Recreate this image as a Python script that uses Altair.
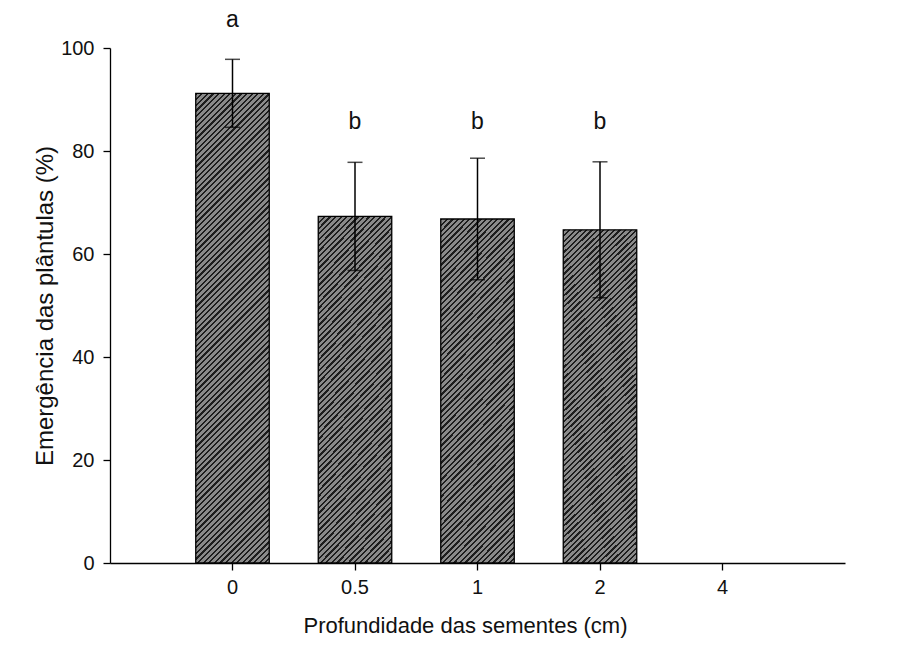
import altair as alt
import pandas as pd

depth = ["0", "0.5", "1", "2", "4"]
emergence = [91.2, 67.3, 66.8, 64.7, 0.0]
err = [6.6, 10.5, 11.8, 13.2, 0.0]
letters = ["a", "b", "b", "b", ""]
letter_y = [105.5, 85.6, 85.6, 85.6, 0.0]

df = pd.DataFrame({"depth": depth, "val": emergence, "err": err,
                   "letter": letters, "ly": letter_y})
df["lo"] = df["val"] - df["err"]
df["hi"] = df["val"] + df["err"]

FONT = "Liberation Sans"
W, H = 735, 515


def hatch(w, h, period=5.6, frac=0.4, dark="#1e1e1e", light="#8a8a8a"):
    s = w + h
    k = s / (w * w + h * h)
    n = int(round(s / period))
    stops = []
    for i in range(n):
        a = i / n
        b = (i + frac) / n
        c = (i + 1) / n
        stops += [alt.GradientStop(offset=a, color=dark),
                  alt.GradientStop(offset=b, color=dark),
                  alt.GradientStop(offset=b, color=light),
                  alt.GradientStop(offset=c, color=light)]
    return alt.LinearGradient(gradient="linear", stops=stops,
                              x1=0, y1=0, x2=w * k, y2=h * k)


xscale = alt.Scale(domain=depth, paddingInner=0.4, paddingOuter=0.7)
xs = alt.X("depth:N", sort=depth, scale=xscale,
           axis=alt.Axis(title="Profundidade das sementes (cm)", labelAngle=0,
                         tickSize=7, labelPadding=7, titlePadding=18,
                         titleFontSize=22, titleX=355, titleAlign="center"))
xp = alt.X("depth:N", sort=depth, scale=xscale)
ys = alt.Y("val:Q", scale=alt.Scale(domain=[0, 100]),
           axis=alt.Axis(title="Emergência das plântulas (%)", values=[0, 20, 40, 60, 80, 100],
                         grid=False, tickSize=7, labelPadding=9, titlePadding=3,
                         titleFontSize=24))

base = alt.Chart(df)
bar0 = base.transform_filter(alt.datum.depth == "0").mark_bar(
    fill=hatch(73.5, 470), stroke="black", strokeWidth=1.3).encode(x=xs, y=ys)
bars = base.transform_filter((alt.datum.depth != "0") & (alt.datum.val > 0)).mark_bar(
    fill=hatch(73.5, 340), stroke="black", strokeWidth=1.3).encode(x=xs, y=ys)

eb = base.transform_filter(alt.datum.err > 0)
rule = eb.mark_rule(color="black", strokeWidth=1.5).encode(
    x=xp, y="lo:Q", y2="hi:Q")
cap_hi = eb.mark_tick(color="black", thickness=1.5, size=15).encode(x=xp, y="hi:Q")
cap_lo = eb.mark_tick(color="black", thickness=1.5, size=15).encode(x=xp, y="lo:Q")
txt = base.transform_filter(alt.datum.letter != "").mark_text(
    font=FONT, fontSize=23, color="#111", baseline="middle").encode(
    x=xp, y="ly:Q", text="letter:N")

chart = alt.layer(bar0, bars, rule, cap_hi, cap_lo, txt).properties(
    width=W, height=H,
    background="white",
    autosize=alt.AutoSizeParams(type="none"),
    padding={"left": 110, "top": 48, "right": 55, "bottom": 86},
).configure_view(stroke=None).configure_axis(
    domainColor="black", tickColor="black", labelColor="#111", titleColor="#111",
    labelFont=FONT, titleFont=FONT, labelFontSize=20,
    titleFontWeight="normal", domainWidth=1.3, tickWidth=1.3,
)

chart.save("out.html", embed_options={"renderer": "svg", "actions": False})
